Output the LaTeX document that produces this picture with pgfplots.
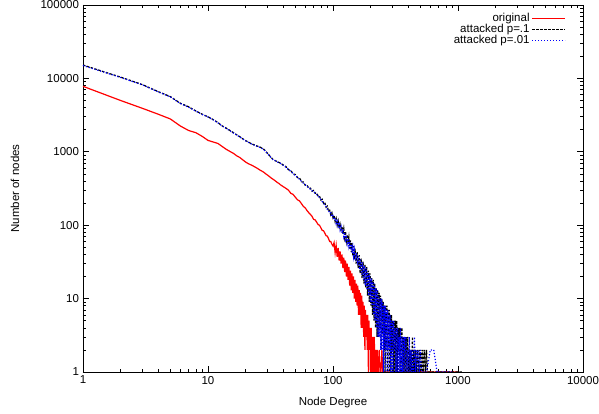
\documentclass[border=0pt]{standalone}
\usepackage{pgfplots}
\pgfplotsset{compat=1.18}
\usepackage{fontspec}
\setmainfont{Liberation Sans}
\begin{document}
\fontsize{11.5}{13.5}\selectfont
\begin{tikzpicture}
\path[use as bounding box] (-83pt,-42pt) rectangle (516pt,372pt);
\begin{axis}[
  scale only axis,
  width=500pt, height=367pt,
  xmode=log, ymode=log,
  xmin=1, xmax=10000, ymin=1, ymax=100000,
  log ticks with fixed point,
  /pgf/number format/1000 sep={},
  /pgf/number format/assume math mode=true,
  xtick pos=both, ytick pos=both,
  tick align=inside,
  major tick length=6pt, minor tick length=3pt,
  axis line style={line width=0.9pt},
  every tick/.style={black, line width=0.6pt},
  xlabel={Node Degree},
  ylabel={Number of nodes},
  xlabel style={at={(axis description cs:0.5,-0.082)}, anchor=center},
  ylabel style={at={(axis description cs:-0.136,0.5)}, anchor=center},
  legend style={at={(1,1)}, anchor=north east, xshift=-14pt, yshift=-4pt,
    draw=none, fill=none, row sep=-3pt},
  legend cell align=right,
  legend plot pos=right,
  legend image code/.code={\draw[#1] (0pt,0pt) -- (33pt,0pt);},
]
\addplot[red, line width=1.2pt] coordinates {
(1,7800)(2,5000)(3,3900)(4,3250)(5,2800)(6,2250)(7,1950)(8,1820)(9,1620)(10,1430)
(11,1360)(12,1300)(13,1180)(14,1080)(15,1010)(16,950)(17,880)(18,835)(19,775)(20,725)
(21,690)(22,665)(23,640)(24,615)(25,590)(26,565)(27,545)(28,525)(29,500)(30,480)
(31,460)(32,440)(33,425)(34,410)(35,395)(36,380)(37,370)(38,355)(39,345)(40,335)
(42,318)(44,300)(46,272)(48,262)(50,240)(52,222)(54,214)(56,196)(58,180)(60,172)
(62,158)(64,148)(66,140)(68,132)(70,120)(72,118)(74,110)(76,102)(78,100)(80,92)
(82,85)(84,84)(86,78)(88,72)(90,71)(92,66)(94,60)(96,60)(98,55)(100,52)
(102,58)(104,42)(106,53)(108,37)(110,49)(112,33)(114,44)(116,30)(118,40)(120,26)
(122,36)(124,23)(126,33)(128,20)(130,30)(132,18)(134,27)(136,15)(138,24)(140,13)
(142,22)(144,12)(146,20)(148,10)(150,18)(152,9)(154,16)(156,8)(158,15)(160,6)
(162,13)(164,6)(166,12)(168,4)(170,11)(172,4)(174,9)(176,3)(178,8)(180,2)
(182,7)(184,3)(186,6)(188,2)(190,6)(192,1)(194,5)(196,2)(198,4)(200,1)
(202,4)(204,1)(206,3)(208,1)(210,3)(212,1)(214,3)(216,1)(218,2)(220,1)
(222,2)(224,1)(226,2)(228,1)(230,1)(234,2)(238,1)(242,1)(246,2)(250,1)
(260,1)(300,1)(400,1)(600,1)(1000,1)
};
\addlegendentry{original}
\addplot[black, line width=1.2pt, dash pattern=on 2.5pt off 1.5pt] coordinates {
(1,15200)(2,10400)(3,8200)(4,6600)(5,5650)(6,4600)(7,4100)(8,3600)(9,3250)(10,3000)
(11,2750)(12,2500)(13,2250)(14,2100)(15,1950)(16,1820)(17,1700)(18,1600)(19,1500)(20,1420)
(21,1360)(22,1300)(23,1260)(24,1220)(25,1190)(26,1160)(27,1120)(28,1080)(29,1010)(30,950)
(31,890)(32,840)(33,790)(34,770)(35,750)(36,730)(37,715)(38,700)(39,680)(40,660)
(42,630)(44,570)(46,555)(48,500)(50,490)(52,445)(54,440)(56,390)(58,388)(60,350)
(62,352)(64,318)(66,320)(68,290)(70,298)(72,272)(74,275)(76,250)(78,250)(80,220)
(82,226)(84,198)(86,204)(88,176)(90,182)(92,155)(94,160)(96,138)(98,148)(100,126)
(102,134)(104,112)(106,124)(108,100)(110,114)(112,90)(114,102)(116,83)(118,96)(120,76)
(122,90)(124,68)(126,82)(128,61)(130,74)(132,56)(134,68)(136,48)(138,62)(140,43)
(142,57)(144,38)(146,52)(148,34)(150,48)(153,30)(156,43)(159,26)(162,39)(165,22)
(168,35)(171,19)(174,32)(177,16)(180,29)(183,14)(186,27)(189,11)(192,24)(195,9)
(198,22)(201,8)(204,19)(207,6)(210,18)(213,5)(216,16)(219,4)(222,14)(225,3)
(228,13)(231,3)(234,12)(237,4)(240,11)(243,2)(246,10)(249,3)(252,9)(255,2)
(258,8)(261,1)(264,8)(267,2)(270,8)(273,1)(276,7)(279,2)(282,7)(285,1)
(288,6)(291,1)(294,6)(297,2)(300,5)(304,1)(308,5)(312,1)(316,5)(320,1)
(324,5)(328,1)(332,4)(336,2)(340,4)(344,1)(348,4)(352,1)(356,4)(360,1)
(365,3)(370,1)(375,3)(380,1)(385,3)(390,1)(396,3)(402,1)(408,2)(414,1)
(420,2)(426,1)(432,3)(438,1)(444,2)(450,1)(458,2)(466,1)(474,2)(482,1)
(490,2)(498,1)(506,2)(514,1)(522,2)(530,1)(540,2)(550,1)(560,2)(570,1)
(600,1)(800,1)(1100,1)
};
\addlegendentry{attacked p=.1}
\addplot[blue, line width=1.2pt, dash pattern=on 1.2pt off 1.8pt] coordinates {
(1,15000)(2,10300)(3,8150)(4,6550)(5,5600)(6,4550)(7,4050)(8,3580)(9,3220)(10,2980)
(11,2720)(12,2480)(13,2240)(14,2080)(15,1930)(16,1800)(17,1690)(18,1590)(19,1490)(20,1410)
(21,1350)(22,1290)(23,1250)(24,1210)(25,1180)(26,1150)(27,1110)(28,1070)(29,1000)(30,940)
(31,880)(32,835)(33,785)(34,765)(35,745)(36,725)(37,710)(38,695)(39,675)(40,655)
(42,615)(44,575)(46,540)(48,505)(50,470)(52,450)(54,420)(56,395)(58,372)(60,355)
(62,340)(64,320)(66,310)(68,295)(70,285)(72,275)(74,262)(76,250)(78,238)(80,225)
(82,210)(84,202)(86,188)(88,180)(90,165)(92,160)(94,145)(96,148)(98,130)(100,135)
(102,118)(104,125)(106,105)(108,114)(110,96)(112,104)(114,86)(116,96)(118,78)(120,88)
(122,70)(124,80)(126,64)(128,73)(130,57)(132,66)(134,52)(136,60)(138,46)(140,55)
(142,42)(144,50)(146,38)(148,46)(151,33)(154,42)(157,29)(160,38)(163,25)(166,34)
(169,21)(172,31)(175,18)(178,28)(181,15)(184,26)(187,13)(190,23)(193,11)(196,21)
(199,9)(202,19)(205,8)(208,17)(211,6)(214,16)(217,5)(220,14)(223,4)(226,13)
(229,3)(232,11)(235,3)(238,10)(241,2)(244,10)(247,2)(250,9)(253,1)(256,8)
(259,2)(262,8)(265,1)(268,7)(271,2)(274,7)(277,1)(280,6)(283,2)(286,6)
(289,1)(292,5)(295,1)(298,5)(302,1)(306,5)(310,2)(314,4)(318,1)(322,4)
(326,1)(330,4)(334,1)(338,3)(342,1)(346,4)(350,1)(354,3)(358,1)(363,3)
(368,1)(373,3)(378,1)(384,3)(390,1)(396,2)(402,1)(408,3)(414,1)(420,2)
(426,1)(432,2)(440,1)(448,3)(456,1)(464,2)(472,1)(480,2)(490,1)(500,2)
(510,1)(540,1)(560,1)(600,2)(640,2)(680,1)(720,1)(900,1)
};
\addlegendentry{attacked p=.01}
\end{axis}
\end{tikzpicture}
\end{document}
